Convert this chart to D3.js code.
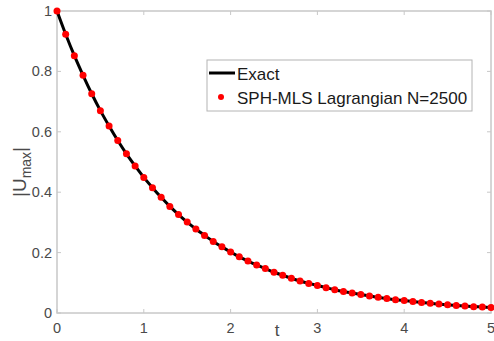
<!DOCTYPE html>
<html><head><meta charset="utf-8">
<script src="https://cdn.jsdelivr.net/npm/d3@7"></script>
<style>body{margin:0;background:#fff}svg{display:block}</style>
</head><body>
<svg id="c" width="494" height="341"></svg>
<script>
const tValues = [0,0.1,0.2,0.3,0.4,0.5,0.6,0.7,0.8,0.9,1.0,1.1,1.2,1.3,1.4,1.5,1.6,1.7,1.8,1.9,2.0,2.1,2.2,2.3,2.4,2.5,2.6,2.7,2.8,2.9,3.0,3.1,3.2,3.3,3.4,3.5,3.6,3.7,3.8,3.9,4.0,4.1,4.2,4.3,4.4,4.5,4.6,4.7,4.8,4.9,5.0];
const exactValues = [1.000,0.923,0.852,0.787,0.726,0.670,0.619,0.571,0.527,0.487,0.449,0.415,0.383,0.353,0.326,0.301,0.278,0.257,0.237,0.219,0.202,0.186,0.172,0.159,0.147,0.135,0.125,0.115,0.106,0.098,0.091,0.084,0.077,0.071,0.066,0.061,0.056,0.052,0.048,0.044,0.041,0.038,0.035,0.032,0.030,0.027,0.025,0.023,0.021,0.020,0.018];
const sphValues = [1.000,0.923,0.852,0.787,0.726,0.670,0.619,0.571,0.527,0.487,0.449,0.415,0.383,0.353,0.326,0.301,0.278,0.257,0.237,0.219,0.202,0.186,0.172,0.159,0.147,0.135,0.125,0.115,0.106,0.098,0.091,0.084,0.077,0.071,0.066,0.061,0.056,0.052,0.048,0.044,0.041,0.038,0.035,0.032,0.030,0.027,0.025,0.023,0.021,0.020,0.018];
const xTicks = [0,1,2,3,4,5];
const yTicks = [0,0.2,0.4,0.6,0.8,1];
const yTickLabels = ["0","0.2","0.4","0.6","0.8","1"];
const seriesNames = ["Exact","SPH-MLS Lagrangian N=2500"];

const svg = d3.select("#c");
const L=57, R=491, T=11, B=313;
const x = d3.scaleLinear().domain([0,5]).range([L,R]);
const y = d3.scaleLinear().domain([0,1]).range([B,T]);
const axisColor = "#c8c8c8", textColor = "#4a4a4a";
const font = "Liberation Sans, Arial, sans-serif";

// box
svg.append("rect").attr("x",L).attr("y",T).attr("width",R-L).attr("height",B-T)
  .attr("fill","none").attr("stroke",axisColor).attr("stroke-width",1.5);

// ticks (inside, all four sides)
const tl=4;
const g = svg.append("g").attr("stroke",axisColor).attr("stroke-width",1);
xTicks.forEach(v=>{
  g.append("line").attr("x1",x(v)).attr("x2",x(v)).attr("y1",B).attr("y2",B-tl);
  g.append("line").attr("x1",x(v)).attr("x2",x(v)).attr("y1",T).attr("y2",T+tl);
});
yTicks.forEach(v=>{
  g.append("line").attr("x1",L).attr("x2",L+tl).attr("y1",y(v)).attr("y2",y(v));
  g.append("line").attr("x1",R).attr("x2",R-tl).attr("y1",y(v)).attr("y2",y(v));
});

// tick labels
svg.append("g").selectAll("text").data(xTicks).join("text")
  .attr("x",d=>x(d)).attr("y",333).attr("text-anchor","middle")
  .attr("font-family",font).attr("font-size",14.5).attr("fill",textColor).text(d=>d);
svg.append("g").selectAll("text").data(yTicks).join("text")
  .attr("x",52).attr("y",d=>y(d)+5).attr("text-anchor","end")
  .attr("font-family",font).attr("font-size",14.5).attr("fill",textColor).text((d,i)=>yTickLabels[i]);

// axis labels
svg.append("text").attr("x",277).attr("y",336).attr("text-anchor","middle")
  .attr("font-family",font).attr("font-size",17).attr("fill",textColor).text("t");
const yl = svg.append("text").attr("transform","translate(26,172) rotate(-90)")
  .attr("text-anchor","middle").attr("font-family",font).attr("font-size",19).attr("fill",textColor);
yl.append("tspan").text("|U");
yl.append("tspan").attr("font-size",14).attr("dy",5).text("max");
yl.append("tspan").attr("dy",-5).text("|");

// data
const exact = tValues.map((t,i)=>({t, v:exactValues[i]}));
const sph = tValues.map((t,i)=>({t, v:sphValues[i]}));
svg.append("path").datum(exact)
  .attr("d", d3.line().x(d=>x(d.t)).y(d=>y(d.v)).curve(d3.curveMonotoneX))
  .attr("fill","none").attr("stroke","#000").attr("stroke-width",3);
svg.append("g").selectAll("circle").data(sph).join("circle")
  .attr("cx",d=>x(d.t)).attr("cy",d=>y(d.v)).attr("r",3.5).attr("fill","#ff0000");

// legend
const lg = svg.append("g");
lg.append("rect").attr("x",207).attr("y",60).attr("width",265).attr("height",51)
  .attr("fill","#fff").attr("stroke","#b4b4b4").attr("stroke-width",1);
lg.append("line").attr("x1",209).attr("x2",235).attr("y1",73).attr("y2",73)
  .attr("stroke","#000").attr("stroke-width",3);
lg.append("circle").attr("cx",221).attr("cy",97).attr("r",3).attr("fill","#ff0000");
lg.append("text").attr("x",237).attr("y",80).attr("font-family",font).attr("font-size",17)
  .attr("fill","#1a1a1a").text(seriesNames[0]);
lg.append("text").attr("x",237).attr("y",104).attr("font-family",font).attr("font-size",17)
  .attr("fill","#1a1a1a").text(seriesNames[1]);
</script>
</body></html>
